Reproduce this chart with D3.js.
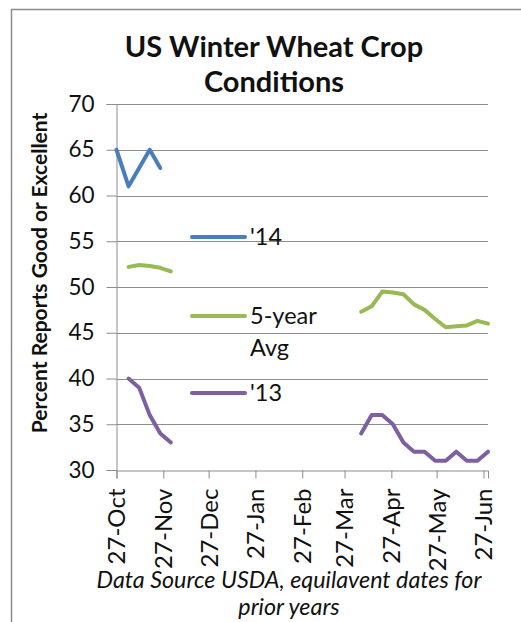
<!DOCTYPE html>
<html><head><meta charset="utf-8">
<script src="https://cdn.jsdelivr.net/npm/d3@7"></script>
<style>body{margin:0;background:#fff}svg{display:block}text{font-family:Lato,"Open Sans",sans-serif;fill:#111}</style>
</head><body>
<script>
// ---- data ----
const fallDates14 = ["2013-10-27","2013-11-04","2013-11-11","2013-11-18","2013-11-25"];
const fall14 = [65,61,63,65,63];
const fallDates = ["2013-11-04","2013-11-11","2013-11-18","2013-11-25","2013-12-02"];
const fallAvg = [52.2,52.4,52.3,52.1,51.7];
const fall13 = [40,39,36,34,33];
const springDates = ["2014-04-07","2014-04-14","2014-04-21","2014-04-28","2014-05-05","2014-05-12","2014-05-19","2014-05-26","2014-06-02","2014-06-09","2014-06-16","2014-06-23","2014-06-30"];
const springAvg = [47.3,47.9,49.5,49.4,49.2,48.1,47.5,46.5,45.6,45.7,45.8,46.3,46.0];
const spring13 = [34,36,36,35,33,32,32,31,31,32,31,31,32];
const xTickDates = ["2013-10-27","2013-11-27","2013-12-27","2014-01-27","2014-02-27","2014-03-27","2014-04-27","2014-05-27","2014-06-27"];
const yTicks = [30,35,40,45,50,55,60,65,70];
const seriesNames = ["'14","5-year\nAvg","'13"];
const seriesColors = ["#4a7ebb","#98b954","#7d60a0"];
const titleLines = ["US Winter Wheat Crop","Conditions"];
const yLabel = "Percent Reports Good or Excellent";
const footerLines = ["Data Source USDA, equilavent dates for","prior years"];

const W = 521, H = 622;
const parse = d3.utcParse("%Y-%m-%d");
const svg = d3.select("body").append("svg").attr("width",W).attr("height",H);

// chart border
svg.append("rect").attr("x",11.5).attr("y",9.5).attr("width",560).attr("height",700)
  .attr("fill","none").attr("stroke","#8c8c8c").attr("stroke-width",1.5);

const x = d3.scaleUtc().domain([parse("2013-10-27"), parse("2014-06-30")]).range([116.5, 488]);
const y = d3.scaleLinear().domain([30,70]).range([470,104]);

// gridlines
svg.append("g").selectAll("line").data(yTicks.filter(v=>v>30)).join("line")
  .attr("x1",116.5).attr("x2",488).attr("y1",d=>Math.round(y(d))+0.5).attr("y2",d=>Math.round(y(d))+0.5)
  .attr("stroke","#8c8c8c").attr("stroke-width",1);

// y axis
const yAxis = svg.append("g").attr("transform","translate(116.5,0)")
  .call(d3.axisLeft(y).tickValues(yTicks).tickSize(10).tickPadding(12).tickFormat(d3.format("d")));
yAxis.select(".domain").attr("stroke","#8c8c8c");
yAxis.selectAll(".tick line").attr("stroke","#8c8c8c");
yAxis.selectAll("text").attr("font-size",22.5).attr("fill","#222").style("font-family","Lato");

// x axis
const xAxis = svg.append("g").attr("transform","translate(0,470.5)")
  .call(d3.axisBottom(x).tickValues(xTickDates.map(parse)).tickSize(8).tickFormat(d3.utcFormat("%d-%b")));
xAxis.select(".domain").attr("stroke","#8c8c8c");
xAxis.selectAll(".tick line").attr("stroke","#8c8c8c");
xAxis.selectAll("text").attr("font-size",24).attr("fill","#222").style("font-family","Lato")
  .attr("transform","rotate(-90)").attr("text-anchor","end").attr("x",-18).attr("y",0).attr("dy","0.35em");

// lines
const line = d3.line().x(d=>x(d[0])).y(d=>y(d[1])).curve(d3.curveLinear);
function seg(dates, vals, color){
  svg.append("path").datum(dates.map((d,i)=>[parse(d),vals[i]]))
    .attr("d",line).attr("fill","none").attr("stroke",color).attr("stroke-width",4)
    .attr("stroke-linejoin","round").attr("stroke-linecap","round");
}
seg(fallDates14, fall14, seriesColors[0]);
seg(fallDates, fallAvg, seriesColors[1]);
seg(springDates, springAvg, seriesColors[1]);
seg(fallDates, fall13, seriesColors[2]);
seg(springDates, spring13, seriesColors[2]);

// legend
const legY = [237, 316, 393];
seriesNames.forEach((n,i)=>{
  svg.append("line").attr("x1",192).attr("x2",245).attr("y1",legY[i]).attr("y2",legY[i])
    .attr("stroke",seriesColors[i]).attr("stroke-width",4).attr("stroke-linecap","round");
  const t = svg.append("text").attr("x",250).attr("y",legY[i]+8).attr("font-size",23.5).attr("fill","#222");
  n.split("\n").forEach((s,k)=>t.append("tspan").attr("x",250).attr("dy",k?32:0).text(s));
});

// title
titleLines.forEach((s,i)=>svg.append("text").attr("x",274).attr("y",57+i*35)
  .attr("text-anchor","middle").attr("font-size",29).attr("font-weight","bold").text(s));

// y label
svg.append("text").attr("transform","translate(47,273) rotate(-90)").attr("text-anchor","middle")
  .attr("font-size",21).attr("font-weight","bold").text(yLabel);

// footer
footerLines.forEach((s,i)=>svg.append("text").attr("x",289).attr("y",588+i*27)
  .attr("text-anchor","middle").attr("font-size",23.3).attr("font-style","italic").attr("fill","#222").text(s));
</script>
</body></html>
